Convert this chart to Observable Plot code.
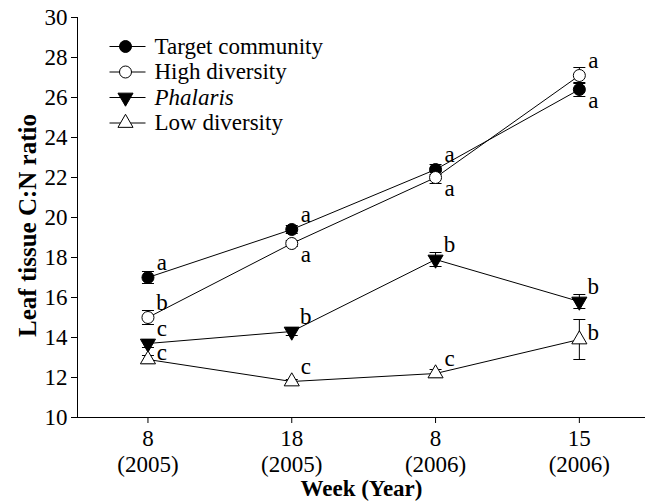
<!DOCTYPE html>
<html>
<head>
<meta charset="utf-8">
<script src="https://cdn.jsdelivr.net/npm/d3@7"></script>
<script src="https://cdn.jsdelivr.net/npm/@observablehq/plot@0.6"></script>
<style>
  html, body { margin: 0; padding: 0; background: #fff; }
</style>
</head>
<body>
<div id="chart"></div>
<script>
// ---- data ----
const weekLabels = ["8\n(2005)", "18\n(2005)", "8\n(2006)", "15\n(2006)"];
const seriesNames = ["Target community", "High diversity", "Phalaris", "Low diversity"];

const targetMean = [17.0, 19.4, 22.4, 26.4];
const targetErr  = [0.3, 0.2, 0.25, 0.35];
const targetLetters = ["a", "a", "a", "a"];
const targetLetterPos = ["above", "above", "above", "below"];

const highMean = [15.0, 18.7, 22.0, 27.1];
const highErr  = [0.35, 0.15, 0.3, 0.4];
const highLetters = ["b", "a", "a", "a"];
const highLetterPos = ["above", "below", "below", "above"];

const phalarisMean = [13.7, 14.3, 17.9, 15.8];
const phalarisErr  = [0.2, 0.2, 0.35, 0.35];
const phalarisLetters = ["c", "b", "b", "b"];
const phalarisLetterPos = ["above", "above", "above", "above"];

const lowMean = [12.9, 11.8, 12.2, 13.9];
const lowErr  = [0.2, 0.1, 0.2, 1.0];
const lowLetters = ["c", "c", "c", "b"];
const lowLetterPos = ["right", "above", "above", "right"];

const yTicks = [10, 12, 14, 16, 18, 20, 22, 24, 26, 28, 30];

// ---- build table ----
const seriesData = [
  {name: seriesNames[0], mean: targetMean, err: targetErr, letters: targetLetters, pos: targetLetterPos},
  {name: seriesNames[1], mean: highMean, err: highErr, letters: highLetters, pos: highLetterPos},
  {name: seriesNames[2], mean: phalarisMean, err: phalarisErr, letters: phalarisLetters, pos: phalarisLetterPos},
  {name: seriesNames[3], mean: lowMean, err: lowErr, letters: lowLetters, pos: lowLetterPos}
];
const rows = [];
seriesData.forEach(s => s.mean.forEach((m, i) => rows.push({
  series: s.name, i, mean: m, lo: m - s.err[i], hi: m + s.err[i], letter: s.letters[i], pos: s.pos[i]
})));

const FONT = "'Liberation Serif', 'Times New Roman', Times, serif";
const FS = 23;

// styles per series
const style = {
  "Target community": {symbol: "circle", fill: "black", rotate: 0, r: 6},
  "High diversity":   {symbol: "circle", fill: "white", rotate: 0, r: 6},
  "Phalaris":         {symbol: "triangle", fill: "black", rotate: 180, r: 5.6},
  "Low diversity":    {symbol: "triangle", fill: "white", rotate: 0, r: 5.6}
};
const hline = hw => ({draw(ctx) { ctx.moveTo(-hw, 0); ctx.lineTo(hw, 0); }});
const cap = hline(6);
const letterDy = {above: -15, below: 11, right: -7};

const xDomain = [-0.49, 3.46];
const yDomain = [10, 30];

const marks = [];
// axis lines
marks.push(Plot.ruleX([xDomain[0]], {stroke: "black", strokeWidth: 1}));
marks.push(Plot.ruleY([yDomain[0]], {stroke: "black", strokeWidth: 1}));
marks.push(Plot.axisY({ticks: yTicks, tickSize: 6, tickPadding: 4, label: null, stroke: "black",
  fontFamily: FONT, fontSize: FS, fill: "black"}));
marks.push(Plot.axisX({ticks: [0, 1, 2, 3], tickFormat: i => weekLabels[i], tickSize: 6, tickPadding: 4,
  lineHeight: 1.12, label: null, stroke: "black", fontFamily: FONT, fontSize: FS, fill: "black"}));
// axis titles
marks.push(Plot.text(["Leaf tissue C:N ratio"], {frameAnchor: "left", textAnchor: "middle", lineAnchor: "middle", rotate: -90, dx: -50, dy: 8,
  fontWeight: "bold", fontSize: 25, fontFamily: FONT, fill: "black"}));
marks.push(Plot.text(["Week (Year)"], {frameAnchor: "bottom", textAnchor: "middle", lineAnchor: "middle", dy: 71,
  fontWeight: "bold", fontSize: FS, fontFamily: FONT, fill: "black"}));

// lines
marks.push(Plot.line(rows, {x: "i", y: "mean", z: "series", stroke: "black", strokeWidth: 1}));
// error bars
marks.push(Plot.ruleX(rows, {x: "i", y1: "lo", y2: "hi", stroke: "black", strokeWidth: 1}));
marks.push(Plot.dot(rows, {x: "i", y: "lo", symbol: cap, fill: "none", stroke: "black", strokeWidth: 1}));
marks.push(Plot.dot(rows, {x: "i", y: "hi", symbol: cap, fill: "none", stroke: "black", strokeWidth: 1}));
// points
for (const s of seriesNames) {
  const st = style[s];
  marks.push(Plot.dot(rows.filter(d => d.series === s), {
    x: "i", y: "mean", symbol: st.symbol, r: st.r, rotate: st.rotate,
    fill: st.fill, stroke: "black", strokeWidth: 1
  }));
}
// letters
for (const p of ["above", "below", "right"]) {
  marks.push(Plot.text(rows.filter(d => d.pos === p), {
    x: "i", y: "mean", text: "letter", dx: 14, dy: letterDy[p], fontSize: FS, fontFamily: FONT, fill: "black"
  }));
}

// legend (inside plot, top-left)
seriesNames.forEach((s, k) => {
  const st = style[s];
  const dy = 29 + k * 25.5;
  marks.push(Plot.dot([s], {frameAnchor: "top-left", dx: 50, dy, symbol: hline(18), fill: "none", stroke: "black", strokeWidth: 1}));
  marks.push(Plot.dot([s], {frameAnchor: "top-left", dx: 48, dy, symbol: st.symbol, r: st.r, rotate: st.rotate, fill: st.fill, stroke: "black", strokeWidth: 1}));
  marks.push(Plot.text([s], {frameAnchor: "top-left", dx: 77, dy, text: d => d, textAnchor: "start", lineAnchor: "middle",
    fontStyle: s === "Phalaris" ? "italic" : "normal", fontSize: FS, fontFamily: FONT, fill: "black"}));
});

const chart = Plot.plot({
  width: 647,
  height: 502,
  marginLeft: 77,
  marginRight: 2,
  marginTop: 17,
  marginBottom: 85,
  x: {domain: xDomain, axis: null},
  y: {domain: yDomain, axis: null},
  style: {fontFamily: FONT, fontSize: "23px", color: "black", background: "white"},
  marks
});
document.getElementById("chart").appendChild(chart);
</script>
</body>
</html>
